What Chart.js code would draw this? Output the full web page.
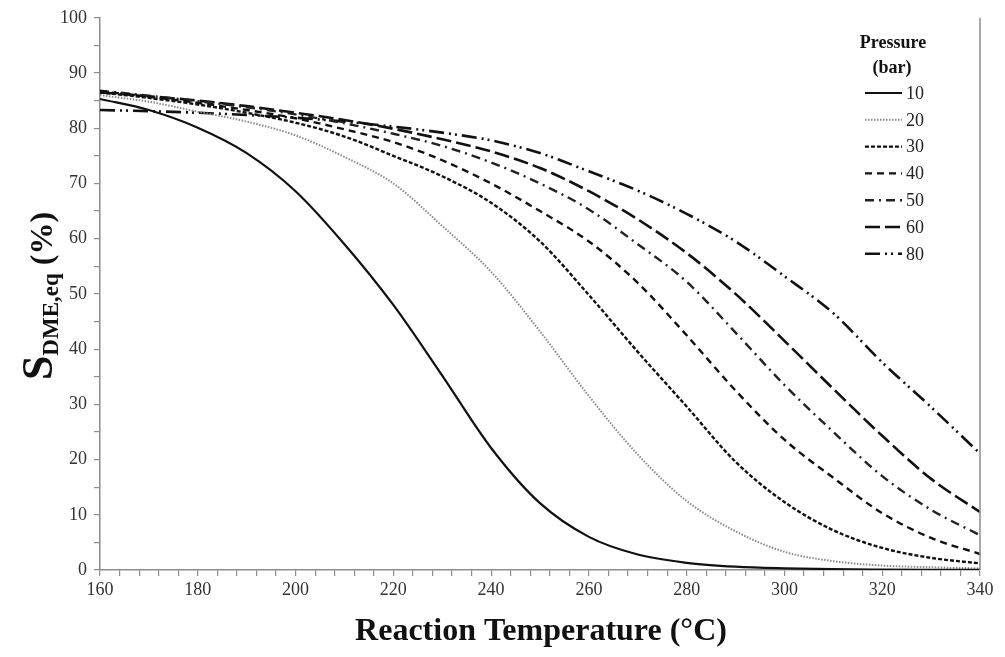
<!DOCTYPE html>
<html>
<head>
<meta charset="utf-8">
<script src="https://cdn.jsdelivr.net/npm/chart.js@4.4.1/dist/chart.umd.min.js"></script>
<style>
  html, body { margin: 0; padding: 0; background: #ffffff; }
  #wrap { width: 1005px; height: 657px; position: relative; }
  canvas { display: block; }
</style>
</head>
<body>
<div id="wrap"><canvas id="c" width="1005" height="657"></canvas></div>
<script>
// ---- Data ----
const temperatures = [160, 170, 180, 190, 200, 210, 220, 230, 240, 250, 260, 270, 280, 290, 300, 310, 320, 330, 340];
const pressures = ['10', '20', '30', '40', '50', '60', '80'];
const sel10 = [85.3, 83.3, 80.1, 75.5, 68.6, 59.0, 48.0, 35.2, 22.1, 12.1, 6.0, 2.8, 1.3, 0.6, 0.3, 0.15, 0.08, 0.04, 0.02];
const sel20 = [86.0, 84.8, 83.0, 81.2, 78.7, 74.8, 70.0, 62.3, 54.0, 43.2, 31.5, 20.9, 12.5, 7.0, 3.3, 1.6, 0.8, 0.5, 0.3];
const sel30 = [86.5, 85.5, 84.3, 82.8, 81.0, 78.5, 75.0, 71.3, 66.5, 59.5, 49.8, 39.5, 29.6, 19.6, 12.3, 7.2, 4.0, 2.2, 1.2];
const sel40 = [86.7, 85.7, 84.6, 83.3, 81.8, 79.8, 77.5, 74.2, 70.0, 65.0, 59.5, 52.0, 42.5, 32.5, 23.6, 16.7, 10.3, 5.8, 2.9];
const sel50 = [86.8, 85.9, 84.9, 83.8, 82.5, 80.9, 79.0, 76.8, 73.8, 70.0, 65.3, 59.0, 52.2, 43.0, 33.5, 25.0, 17.0, 10.9, 6.3];
const sel60 = [86.5, 85.8, 85.0, 84.0, 82.8, 81.5, 79.9, 78.0, 75.8, 72.8, 68.6, 63.5, 57.4, 50.0, 41.5, 32.8, 24.3, 16.5, 10.5];
const sel80 = [83.3, 83.1, 82.8, 82.4, 81.9, 81.2, 80.3, 79.2, 77.8, 75.5, 72.2, 68.7, 64.5, 59.5, 53.2, 46.5, 37.6, 29.5, 21.1];
const xTickMajor = [160, 180, 200, 220, 240, 260, 280, 300, 320, 340];
const yTickMajor = [0, 10, 20, 30, 40, 50, 60, 70, 80, 90, 100];

const seriesValues = [sel10, sel20, sel30, sel40, sel50, sel60, sel80];
const styles = [
  { color: '#111111', width: 2.2, dash: [] },
  { color: '#8a8a8a', width: 2.0, dash: [1.5, 1.5] },
  { color: '#111111', width: 2.4, dash: [4, 2] },
  { color: '#111111', width: 2.4, dash: [7, 5] },
  { color: '#222222', width: 2.4, dash: [9, 5, 2, 5] },
  { color: '#111111', width: 2.6, dash: [15, 5] },
  { color: '#111111', width: 2.6, dash: [15, 5, 2, 4, 2, 5] }
];

const datasets = seriesValues.map((vals, i) => ({
  label: pressures[i],
  data: temperatures.map((t, k) => ({ x: t, y: vals[k] })),
  borderColor: styles[i].color,
  borderWidth: styles[i].width,
  borderDash: styles[i].dash,
  pointRadius: 0,
  cubicInterpolationMode: 'monotone',
  fill: false
}));

const SERIF = '"Liberation Serif", "Times New Roman", serif';

const customDraw = {
  id: 'customDraw',
  afterDraw(chart) {
    const ctx = chart.ctx;
    const area = chart.chartArea;
    ctx.save();
    // right frame line
    ctx.strokeStyle = '#8c8c8c';
    ctx.lineWidth = 1.5;
    ctx.beginPath();
    ctx.moveTo(area.right, area.top);
    ctx.lineTo(area.right, area.bottom);
    ctx.stroke();

    // legend
    ctx.fillStyle = '#111111';
    ctx.textAlign = 'center';
    ctx.textBaseline = 'middle';
    ctx.font = 'bold 18px ' + SERIF;
    ctx.fillText('Pressure', 893, 43);
    ctx.fillText('(bar)', 892, 68);
    ctx.font = '18px ' + SERIF;
    ctx.textAlign = 'left';
    chart.data.datasets.forEach((ds, i) => {
      const y = 93 + i * 26.8;
      ctx.save();
      ctx.strokeStyle = ds.borderColor;
      ctx.lineWidth = ds.borderWidth;
      ctx.setLineDash(ds.borderDash);
      ctx.beginPath();
      ctx.moveTo(865, y);
      ctx.lineTo(902, y);
      ctx.stroke();
      ctx.restore();
      ctx.fillStyle = '#222222';
      ctx.fillText(ds.label, 906, y + 1);
    });

    // x-axis title
    ctx.fillStyle = '#111111';
    ctx.textAlign = 'center';
    ctx.textBaseline = 'middle';
    ctx.font = 'bold 32px ' + SERIF;
    ctx.fillText('Reaction Temperature (\u00B0C)', 541, 632);

    // y-axis title with subscript
    const parts = [
      { t: 'S', f: 'bold 44px ' + SERIF, dy: 0 },
      { t: 'DME,eq', f: 'bold 23px ' + SERIF, dy: 6 },
      { t: ' (%)', f: 'bold 32px ' + SERIF, dy: 0 }
    ];
    let total = 0;
    parts.forEach(p => { ctx.font = p.f; p.w = ctx.measureText(p.t).width; total += p.w; });
    ctx.translate(52, 296);
    ctx.rotate(-Math.PI / 2);
    ctx.textAlign = 'left';
    ctx.textBaseline = 'alphabetic';
    let x = -total / 2;
    parts.forEach(p => { ctx.font = p.f; ctx.fillText(p.t, x, p.dy); x += p.w; });
    ctx.restore();
  }
};

new Chart(document.getElementById('c'), {
  type: 'line',
  data: { datasets },
  options: {
    responsive: false,
    animation: false,
    devicePixelRatio: 1,
    layout: { padding: { top: 16, right: 25, left: 0, bottom: 0 } },
    plugins: { legend: { display: false }, tooltip: { enabled: false } },
    scales: {
      x: {
        type: 'linear',
        min: 160, max: 340,
        afterFit(scale) { scale.height = 87; },
        grid: { drawOnChartArea: false, drawTicks: true, tickLength: 6, color: '#8c8c8c', lineWidth: 1.2 },
        border: { display: true, color: '#8c8c8c', width: 1.5 },
        ticks: {
          stepSize: 4, autoSkip: false, maxRotation: 0, padding: 3,
          color: '#333333', font: { family: SERIF, size: 18 },
          callback: v => xTickMajor.includes(v) ? String(v) : ''
        }
      },
      y: {
        min: 0, max: 100,
        afterFit(scale) { scale.width = 100; },
        grid: { drawOnChartArea: false, drawTicks: true, tickLength: 6, color: '#8c8c8c', lineWidth: 1.2 },
        border: { display: true, color: '#8c8c8c', width: 1.5 },
        ticks: {
          stepSize: 5, autoSkip: false, padding: 7,
          color: '#333333', font: { family: SERIF, size: 18 },
          callback: v => yTickMajor.includes(v) ? String(v) : ''
        }
      }
    }
  },
  plugins: [customDraw]
});
</script>
</body>
</html>
